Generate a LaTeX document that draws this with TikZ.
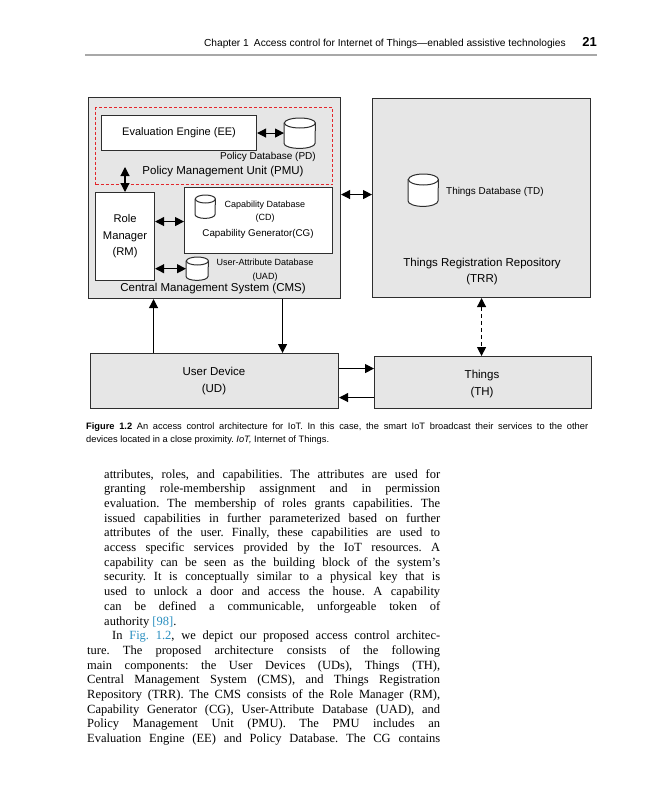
\documentclass[tikz,border=0pt]{standalone}
\usepackage{fontspec}
\setmainfont{Liberation Serif}
\newfontfamily\dsans{Liberation Sans}
\usetikzlibrary{arrows.meta}
\definecolor{boxgray}{HTML}{E6E6E6}
\definecolor{edgecol}{HTML}{2E2E2E}
\definecolor{pmured}{HTML}{E3262B}
\definecolor{linkblue}{HTML}{2A8FC0}
\definecolor{rulegray}{HTML}{A8A8A8}
\newcommand\fsz[2]{\fontsize{#1}{#2}\selectfont}
\newcommand\dbcyl[3]{%
  \fill[white] ([yshift=-#3]#1.north west) -- ([yshift=#3]#1.south west)
    arc[start angle=180,end angle=360,x radius=#2,y radius=#3]
    -- ([yshift=-#3]#1.north east)
    arc[start angle=0,end angle=180,x radius=#2,y radius=#3] -- cycle;
  \draw[edgecol,line width=1pt] ([yshift=-#3]#1.north west) -- ([yshift=#3]#1.south west)
    arc[start angle=180,end angle=360,x radius=#2,y radius=#3]
    -- ([yshift=-#3]#1.north east)
    arc[start angle=0,end angle=180,x radius=#2,y radius=#3] -- cycle;
  \draw[edgecol,line width=1pt] ([yshift=-#3]#1.north east)
    arc[start angle=0,end angle=-180,x radius=#2,y radius=#3];
}
\begin{document}
\frenchspacing
\begin{tikzpicture}[x=1pt,y=-1pt,
  box/.style={draw=edgecol, line width=1.1pt, anchor=north west, inner sep=0pt},
  graybox/.style={box, fill=boxgray},
  whitebox/.style={box, fill=white},
  lbl/.style={inner sep=0pt, align=center, font=\dsans\fsz{#1}{#1}},
  cylnode/.style={inner sep=0pt, anchor=north west},
  dbl/.style={{Triangle[length=9pt,width=9pt]}-{Triangle[length=9pt,width=9pt]}, line width=1.1pt},
  arr/.style={-{Triangle[length=9pt,width=9pt]}, line width=1.1pt},
  bodyline/.style={anchor=base west, inner sep=0pt, font=\fsz{12.5}{14}},
  capline/.style={anchor=base west, inner sep=0pt, font=\dsans\fsz{9.3}{12}},
]
\useasboundingbox[fill=white] (0,0) rectangle (648,800);

% header
\node[anchor=base east, inner sep=0pt, font=\dsans\fsz{10.2}{12}] (hdr) at (566,47)
  {Chapter 1\enspace Access control for Internet of Things—enabled assistive technologies};
\node[anchor=base east, inner sep=0pt, font=\dsans\bfseries\fsz{13}{14}] (pg) at (597,47) {21};
\draw[rulegray, line width=1.4pt] (85,55) -- (597,55);

% CMS
\node[graybox, minimum width=252pt, minimum height=201pt] (cms) at (88,97) {};
\node[box, draw=pmured, dash pattern=on 3pt off 2pt, line width=1.3pt, minimum width=237pt, minimum height=77pt] (pmu) at (95,107) {};
\node[whitebox, minimum width=155pt, minimum height=35pt, font=\dsans\fsz{11}{12}] (ee) at (101,115) {Evaluation Engine (EE)};
\node[cylnode, minimum width=31pt, minimum height=30pt] (pd) at (284,118) {};
\dbcyl{pd}{15.5pt}{5pt}
\node[lbl=10] (pdl) at (268,157) {Policy Database (PD)};
\node[lbl=11.5] (pmul) at (223,172) {Policy Management Unit (PMU)};
\node[whitebox, minimum width=59pt, minimum height=88pt, align=center, font=\dsans\fsz{11.2}{16.5}] (rm) at (95,192) {Role\\Manager\\(RM)};
\node[whitebox, minimum width=148pt, minimum height=66pt] (cg) at (184,187) {};
\node[cylnode, minimum width=20pt, minimum height=23pt] (cd) at (195,195) {};
\dbcyl{cd}{10pt}{4pt}
\node[lbl=9, font=\dsans\fsz{9}{13}] (cdl) at (265,211.5) {Capability Database\\(CD)};
\node[lbl=9.8] (cgl) at (258,234) {Capability Generator(CG)};
\node[cylnode, minimum width=22pt, minimum height=23pt] (uad) at (186,257) {};
\dbcyl{uad}{11pt}{4pt}
\node[lbl=9, font=\dsans\fsz{9}{14}] (uadl) at (265,270) {User-Attribute Database\\(UAD)};
\node[lbl=11.5] (cmsl) at (213,289) {Central Management System (CMS)};

% TRR
\node[graybox, minimum width=218pt, minimum height=199pt] (trr) at (372,98) {};
\node[cylnode, minimum width=30pt, minimum height=32pt] (td) at (408,174) {};
\dbcyl{td}{15pt}{5.5pt}
\node[lbl=9.9, anchor=west] (tdl) at (446,192) {Things Database (TD)};
\node[lbl=11.5, font=\dsans\fsz{11.5}{15.5}] (trrl) at (482,271.5) {Things Registration Repository\\(TRR)};

% UD, TH
\node[graybox, minimum width=248pt, minimum height=55pt] (ud) at (90,353) {};
\node[lbl=11.5, font=\dsans\fsz{11.5}{17}] (udl) at (214,381.5) {User Device\\(UD)};
\node[graybox, minimum width=217pt, minimum height=52pt] (th) at (374,356) {};
\node[lbl=11.5, font=\dsans\fsz{11.5}{17}] (thl) at (482,384.5) {Things\\(TH)};

% connectors
\draw[dbl] (ee.east) -- (ee.east -| pd.west);
\coordinate (pmuA) at (125,167);
\draw[dbl] (pmuA) -- (pmuA |- rm.north);
\draw[dbl] ([yshift=15pt]rm.east) -- ([yshift=15pt]rm.east -| cg.west);
\draw[dbl] (rm.east |- uad.west) -- (uad.west);
\draw[dbl] ([yshift=3.5pt]cms.east) -- ([yshift=3.5pt]cms.east -| trr.west);
\draw[arr] ([xshift=-61pt]ud.north) -- ([xshift=-61pt]ud.north |- cms.south);
\draw[arr] ([xshift=68pt]ud.north |- cms.south) -- ([xshift=68pt]ud.north);
\draw[dbl, dash pattern=on 4pt off 3pt] (trr.south) -- (trr.south |- th.north);
\draw[arr] ([yshift=12.5pt]ud.east) -- ([yshift=12.5pt]ud.east -| th.west);
\draw[arr] ([yshift=-16.5pt]ud.east -| th.west) -- ([yshift=-16.5pt]ud.east);

% caption
\node[capline] (cap1) at (86,429) {\makebox[502pt][s]{\textbf{Figure 1.2}\enspace An access control architecture for IoT. In this case, the smart IoT broadcast their services to the other}};
\node[capline] (cap2) at (86,442) {devices located in a close proximity. \textit{IoT,} Internet of Things.};

% body text
\node[bodyline] (l1) at (104,478) {\makebox[336pt][s]{attributes, roles, and capabilities. The attributes are used for}};
\node[bodyline] (l2) at (104,492.7) {\makebox[336pt][s]{granting role-membership assignment and in permission}};
\node[bodyline] (l3) at (104,507.4) {\makebox[336pt][s]{evaluation. The membership of roles grants capabilities. The}};
\node[bodyline] (l4) at (104,522.1) {\makebox[336pt][s]{issued capabilities in further parameterized based on further}};
\node[bodyline] (l5) at (104,536.8) {\makebox[336pt][s]{attributes of the user. Finally, these capabilities are used to}};
\node[bodyline] (l6) at (104,551.5) {\makebox[336pt][s]{access specific services provided by the IoT resources. A}};
\node[bodyline] (l7) at (104,566.2) {\makebox[336pt][s]{capability can be seen as the building block of the system's}};
\node[bodyline] (l8) at (104,580.9) {\makebox[336pt][s]{security. It is conceptually similar to a physical key that is}};
\node[bodyline] (l9) at (104,595.6) {\makebox[336pt][s]{used to unlock a door and access the house. A capability}};
\node[bodyline] (l10) at (104,610.3) {\makebox[336pt][s]{can be defined a communicable, unforgeable token of}};
\node[bodyline] (l11) at (104,625.0) {authority \textcolor{linkblue}{[98]}.};
\node[bodyline] (l12) at (112,639.7) {\makebox[328pt][s]{In \textcolor{linkblue}{Fig.~1.2}, we depict our proposed access control architec-}};
\node[bodyline] (l13) at (87,654.4) {\makebox[353pt][s]{ture. The proposed architecture consists of the following}};
\node[bodyline] (l14) at (87,669.1) {\makebox[353pt][s]{main components: the User Devices (UDs), Things (TH),}};
\node[bodyline] (l15) at (87,683.8) {\makebox[353pt][s]{Central Management System (CMS), and Things Registration}};
\node[bodyline] (l16) at (87,698.5) {\makebox[353pt][s]{Repository (TRR). The CMS consists of the Role Manager (RM),}};
\node[bodyline] (l17) at (87,713.2) {\makebox[353pt][s]{Capability Generator (CG), User-Attribute Database (UAD), and}};
\node[bodyline] (l18) at (87,727.9) {\makebox[353pt][s]{Policy Management Unit (PMU). The PMU includes an}};
\node[bodyline] (l19) at (87,742.6) {\makebox[353pt][s]{Evaluation Engine (EE) and Policy Database. The CG contains}};
\end{tikzpicture}
\end{document}
